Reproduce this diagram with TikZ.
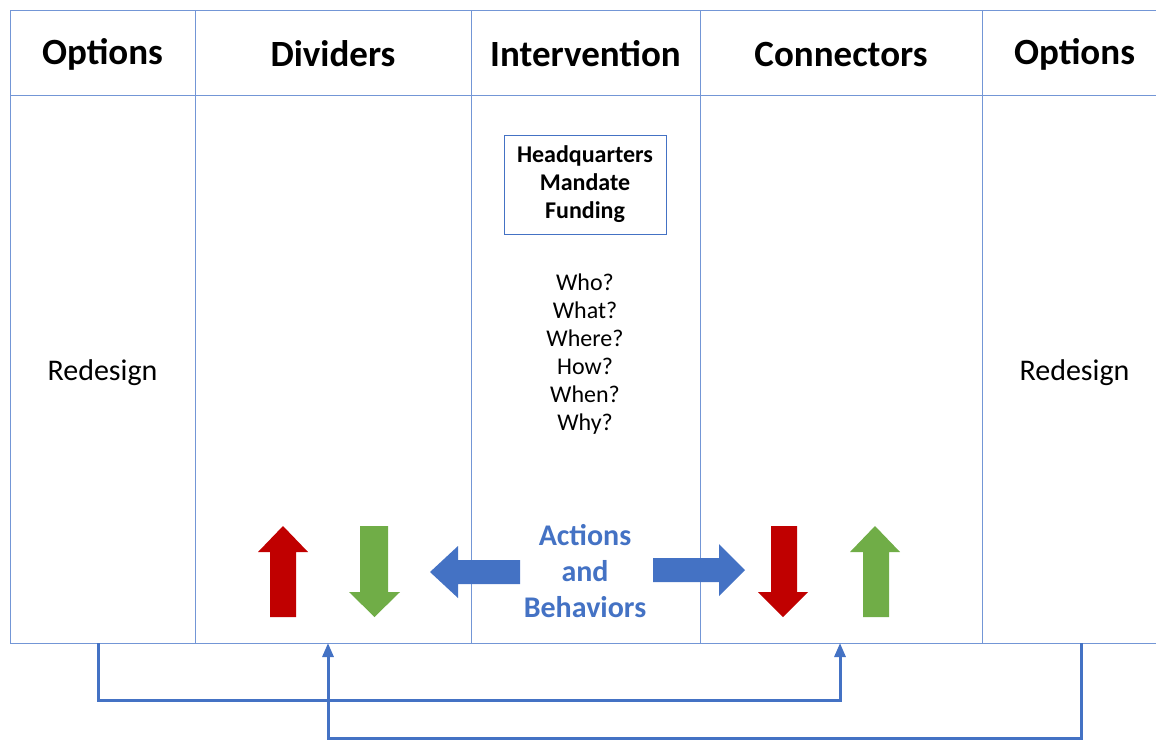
\documentclass[tikz,border=0pt]{standalone}
\usepackage{fontspec}
\setmainfont{Carlito}
\usetikzlibrary{arrows.meta}
\definecolor{tblue}{HTML}{4472C4}
\definecolor{tline}{HTML}{7396D6}
\definecolor{tred}{HTML}{C00000}
\definecolor{tgreen}{HTML}{70AD47}
\tikzset{
  grid/.style={draw=tline, line width=1pt},
  head/.style={font=\fontsize{37}{40}\selectfont\bfseries, anchor=center},
  cell/.style={font=\fontsize{30}{34}\selectfont, anchor=center},
  qs/.style={font=\fontsize{24}{28}\selectfont, align=center, anchor=center},
  hq/.style={draw=tblue, line width=1pt, minimum width=162pt, minimum height=99pt, font=\fontsize{24}{28}\selectfont\bfseries, align=center},
  act/.style={font=\fontsize{30}{36}\selectfont\bfseries, text=tblue, align=center},
  link/.style={draw=tblue, line width=3pt},
  linkarrow/.style={link, -{Triangle[length=14pt,width=11pt]}},
}
\begin{document}
\begin{tikzpicture}[x=1pt,y=-1pt]
\useasboundingbox (0,0) rectangle (1156,740);
% table
\draw[grid] (1156,10) -- (10,10) -- (10,643) -- (1156,643);
\draw[grid] (10,95) -- (1156,95);
\foreach \xx in {195,471,700,982} \draw[grid] (\xx,10) -- (\xx,643);
% headers
\node[head] (h1) at (102.5,54) {Options};
\node[head] (h2) at (333,54) {Dividers};
\node[head] (h3) at (585.5,54) {Intervention};
\node[head] (h4) at (841,54) {Connectors};
\node[head] (h5) at (1074.5,54) {Options};
% cells
\node[cell] (r1) at (102.5,372.5) {Redesign};
\node[cell] (r2) at (1074.5,372.5) {Redesign};
\node[hq] (hq) at (585,184.5) {Headquarters\\Mandate\\Funding};
\node[qs] (qs) at (585,354) {Who?\\What?\\Where?\\How?\\When?\\Why?};
\node[act] (act) at (585,571) {Actions\\and\\Behaviors};
% block arrows
\fill[tred] (283,526) -- (308,552) -- (296,552) -- (296,617) -- (270,617) -- (270,552) -- (258,552) -- cycle;
\fill[tgreen] (374.5,617) -- (400,592) -- (388,592) -- (388,526) -- (360,526) -- (360,592) -- (349,592) -- cycle;
\fill[tblue] (430,572) -- (458,546) -- (458,560) -- (520,560) -- (520,584) -- (458,584) -- (458,598) -- cycle;
\fill[tblue] (745,570) -- (719,544) -- (719,558) -- (653,558) -- (653,582) -- (719,582) -- (719,596) -- cycle;
\fill[tred] (783,617) -- (808,592) -- (797,592) -- (797,526) -- (771,526) -- (771,592) -- (758,592) -- cycle;
\fill[tgreen] (875,526) -- (900,552) -- (889,552) -- (889,617) -- (863,617) -- (863,552) -- (850,552) -- cycle;
% connectors
\coordinate (s1) at (98,643);
\coordinate (e1) at (840,643);
\coordinate (s2) at (1081,643);
\coordinate (e2) at (328,643);
\draw[linkarrow] (s1) -- ++(0,57) -| (e1);
\draw[linkarrow] (s2) -- ++(0,95) -| (e2);
\end{tikzpicture}
\end{document}
